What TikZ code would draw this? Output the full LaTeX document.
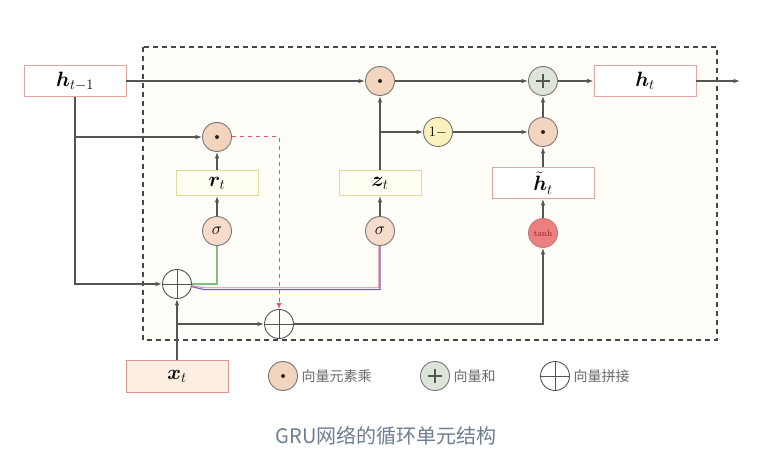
\documentclass[tikz,border=0pt]{standalone}
\usepackage{fontspec}
\usepackage{amsmath,bm}
\newfontfamily\cjk{Noto Sans CJK SC}
\usetikzlibrary{arrows.meta,calc}
\definecolor{linec}{HTML}{555555}
\definecolor{pinkb}{HTML}{E2A6A0}
\definecolor{yellb}{HTML}{E4DA98}
\definecolor{yellf}{HTML}{FFFEF2}
\definecolor{xtf}{HTML}{FCEFE2}
\definecolor{xtb}{HTML}{D9958F}
\definecolor{dotf}{HTML}{F3D5BF}
\definecolor{plusf}{HTML}{DDE4D8}
\definecolor{sigf}{HTML}{F8DCCB}
\definecolor{onef}{HTML}{FCF0BF}
\definecolor{tanhf}{HTML}{EC7F7F}
\definecolor{tanht}{HTML}{9A2020}
\definecolor{frame}{HTML}{4A4448}
\definecolor{capc}{HTML}{6E7D92}
\definecolor{legc}{HTML}{6A6A6A}
\definecolor{greenl}{HTML}{7CC27C}
\definecolor{purpl}{HTML}{6F5FB5}
\definecolor{pinkl}{HTML}{E07FA0}
\definecolor{redd}{HTML}{E8506A}
\definecolor{cream}{HTML}{FEFDF8}
\begin{document}
\begin{tikzpicture}[x=1pt,y=-1pt,
  conn/.style={draw=linec,line width=1.1pt},
  arr/.style={conn,-{Latex[length=6.5pt,width=4.5pt]}},
  box/.style={rectangle,draw,line width=0.9pt,inner sep=0pt,font=\fontsize{20}{24}\selectfont},
  pinkbox/.style={box,draw=pinkb,fill=white,minimum width=102pt,minimum height=31pt},
  yellbox/.style={box,draw=yellb,fill=yellf,minimum width=82pt,minimum height=25pt},
  op/.style={circle,draw=linec!80,line width=0.9pt,minimum size=29pt,inner sep=0pt},
  dotop/.style={op,fill=dotf,path picture={\fill[black!85] (path picture bounding box.center) circle (2pt);}},
  plusop/.style={op,fill=plusf,path picture={\draw[linec,line width=1.4pt]
      ($(path picture bounding box.center)+(-7,0)$) -- ($(path picture bounding box.center)+(7,0)$)
      ($(path picture bounding box.center)+(0,-7)$) -- ($(path picture bounding box.center)+(0,7)$);}},
  catop/.style={op,draw=linec,fill=none,path picture={\draw[linec,line width=0.9pt]
      (path picture bounding box.north) -- (path picture bounding box.south)
      (path picture bounding box.west) -- (path picture bounding box.east);}},
  sigop/.style={op,fill=sigf,font=\fontsize{17}{19}\selectfont},
  legtext/.style={anchor=west,text=legc,font=\cjk\fontsize{14}{16}\selectfont}
]
\useasboundingbox (0,0) rectangle (777,473);
\fill[white] (0,0) rectangle (777,473);
\fill[cream] (143,47) rectangle (717,340);
\draw[frame,line width=1.6pt,dash pattern=on 5pt off 4pt] (143,47) rectangle (717,340);

% boxes
\node[pinkbox] (hprev) at (75,81) {$\bm{h}_{t-1}$};
\node[pinkbox] (hcur) at (645,81) {$\bm{h}_{t}$};
\node[pinkbox] (htil) at (543,183) {$\tilde{\bm{h}}_{t}$};
\node[yellbox] (rt) at (217,183) {$\bm{r}_{t}$};
\node[yellbox] (zt) at (380,183) {$\bm{z}_{t}$};
\node[box,draw=xtb,fill=xtf,minimum width=102pt,minimum height=32pt] (xt) at (177,376) {$\bm{x}_{t}$};

% operators
\node[dotop] (mul1) at (380,81) {};
\node[plusop] (add) at (543,81) {};
\node[dotop] (mul2) at (543,132) {};
\node[op,fill=onef,font=\fontsize{15}{17}\selectfont] (one) at (438,132) {$1-$};
\node[dotop] (rmul) at (217,137) {};
\node[sigop] (sigr) at (217,231) {$\sigma$};
\node[sigop] (sigz) at (380,231) {$\sigma$};
\node[op,fill=tanhf,draw=tanht!60,text=tanht,font=\fontsize{9}{10}\selectfont] (tanh) at (543,233) {tanh};
\node[catop] (cat1) at (177,284) {};
\node[catop] (cat2) at (279,324) {};
\coordinate (out) at (740,81);

% main flow
\draw[arr] (hprev.east) -- (mul1.west);
\draw[arr] (mul1.east) -- (add.west);
\draw[arr] (add.east) -- (hcur.west);
\draw[arr] (hcur.east) -- (out);
\draw[arr] (hprev.south) |- (cat1.west);
\draw[arr] (hprev.south |- rmul) -- (rmul.west);
\draw[arr] (xt.north) -- (cat1.south);
\draw[arr] (xt.north |- cat2) -- (cat2.west);
\draw[arr] (cat2.east) -| (tanh.south);
\draw[arr] (tanh.north) -- (htil.south);
\draw[arr] (htil.north) -- (mul2.south);
\draw[arr] (mul2.north) -- (add.south);
\draw[arr] (one.east) -- (mul2.west);
\draw[arr] (zt.north) -- (mul1.south);
\draw[arr] (zt.north |- one) -- (one.west);
\draw[arr] (sigz.north) -- (zt.south);
\draw[arr] (sigr.north) -- (rt.south);
\draw[arr] (rt.north) -- (rmul.south);

% reset gate path (dashed)
\draw[redd,line width=1pt,dash pattern=on 4.5pt off 3.5pt,-{Latex[length=6pt,width=5pt]}] (rmul.east) -| (cat2.north);

% gate inputs
\draw[greenl,line width=1.1pt] (cat1.east) -| (sigr.south);
\coordinate (pk) at ($(cat1.east)+(12,5)$);
\draw[pinkl,line width=0.9pt] ($(cat1.east)+(-1,1.5)$) -- ($(pk)+(0,-1.2)$) -| ($(sigz.south)+(-1.2,0)$);
\draw[purpl,line width=1.1pt] ($(cat1.east)+(-1,2.5)$) -- ($(pk)+(0,0.6)$) -| (sigz.south);

% legend
\node[dotop] (l1) at (283,376) {};
\node[legtext] (l1t) at (298,376) {向量元素乘};
\node[plusop] (l2) at (435,376) {};
\node[legtext] (l2t) at (450,376) {向量和};
\node[catop] (l3) at (555,376) {};
\node[legtext] (l3t) at (570,376) {向量拼接};

% caption
\node[text=capc,font=\cjk\fontsize{20}{24}\selectfont] (cap) at (386,436) {GRU网络的循环单元结构};
\end{tikzpicture}
\end{document}
